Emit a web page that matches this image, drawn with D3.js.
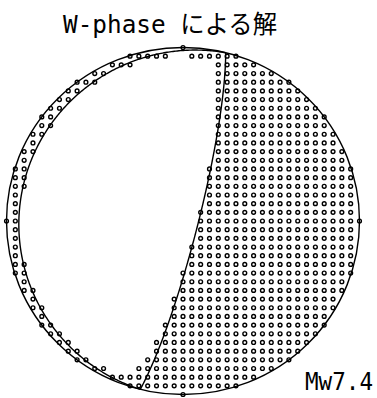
<!DOCTYPE html>
<html lang="ja">
<meta charset="utf-8">
<head>
    <script src="https://d3js.org/d3.v7.min.js"></script>
    <style>
        body { margin: 0; background: #fff; }
        svg { display: block; }
    </style>
</head>
<body>
<div id="chart"></div>
<script>
    // nodal planes (strike, dip in degrees)
    const planeStrikes = [14, 194];
    const planeDips = [83, 8];
    // non double couple part, widens the compressional area
    const nonDcOffset = [0.015];
    const gridStep = [0.05];
    const titleText = ["W-phase による解"];
    const magnitudeLabel = ["Mw7.4"];

    let width = 377, height = 398;

    let svg = d3.select("#chart").append("svg")
        .attr("width", width)
        .attr("height", height);

    // unit disc -> pixels
    let xScale = d3.scaleLinear().domain([-1, 1]).range([6.5, 359.5]);
    let yScale = d3.scaleLinear().domain([-1, 1]).range([394.5, 47.5]);

    const rad = Math.PI / 180;

    function normal(strike, dip) {
        let s = strike * rad, d = dip * rad;
        return [-Math.sin(d) * Math.sin(s), Math.sin(d) * Math.cos(s), -Math.cos(d)];
    }
    const dot = (a, b) => a[0]*b[0] + a[1]*b[1] + a[2]*b[2];

    // lower hemisphere equal area
    function project(v) {
        let inc = Math.acos(Math.max(-1, Math.min(1, v[2])));
        let r = Math.SQRT2 * Math.sin(inc / 2);
        let az = Math.atan2(v[1], v[0]);
        return {u: r * Math.sin(az), v: r * Math.cos(az)};
    }
    function unproject(u, v) {
        let r = Math.sqrt(u*u + v*v);
        let inc = 2 * Math.asin(Math.min(1, r / Math.SQRT2));
        let az = Math.atan2(u, v);
        return [Math.sin(inc) * Math.cos(az), Math.sin(inc) * Math.sin(az), Math.cos(inc)];
    }

    let normals = planeStrikes.map((s, i) => normal(s, planeDips[i]));

    // polarity dots
    let n = Math.round(1 / gridStep[0]);
    let dots = [];
    for (let i = -n; i <= n; i++) {
        for (let j = -n; j <= n; j++) {
            let u = i * gridStep[0], v = j * gridStep[0];
            if (u*u + v*v > 1 + 1e-9) continue;
            let p = unproject(u, v);
            let f = -dot(p, normals[0]) * dot(p, normals[1]) + nonDcOffset[0];
            if (f > 0) dots.push({u: u, v: v});
        }
    }

    svg.append("g").selectAll("circle")
        .data(dots)
        .enter().append("circle")
        .attr("cx", d => xScale(d.u))
        .attr("cy", d => yScale(d.v))
        .attr("r", 1.9)
        .attr("fill", "none")
        .attr("stroke", "#000")
        .attr("stroke-width", 1.4);

    // nodal plane traces
    let line = d3.line()
        .x(d => xScale(d.u))
        .y(d => yScale(d.v));

    planeStrikes.forEach(function(strike, k) {
        let s = strike * rad, d = planeDips[k] * rad;
        let sv = [Math.cos(s), Math.sin(s), 0];
        let dv = [-Math.cos(d) * Math.sin(s), Math.cos(d) * Math.cos(s), Math.sin(d)];
        let pts = d3.range(0, 361).map(function(a) {
            let t = a / 360 * Math.PI;
            return project([Math.cos(t)*sv[0] + Math.sin(t)*dv[0],
                            Math.cos(t)*sv[1] + Math.sin(t)*dv[1],
                            Math.cos(t)*sv[2] + Math.sin(t)*dv[2]]);
        });
        svg.append("path")
            .attr("d", line(pts))
            .attr("fill", "none")
            .attr("stroke", "#000")
            .attr("stroke-width", 1.4);
    });

    svg.append("ellipse")
        .attr("cx", xScale(0))
        .attr("cy", yScale(0))
        .attr("rx", xScale(1) - xScale(0))
        .attr("ry", yScale(-1) - yScale(0))
        .attr("fill", "none")
        .attr("stroke", "#000")
        .attr("stroke-width", 1.4);

    svg.append("text")
        .attr("x", 63)
        .attr("y", 33)
        .attr("textLength", 214)
        .attr("lengthAdjust", "spacingAndGlyphs")
        .style("font-family", "'DejaVu Sans Mono', 'Noto Sans CJK JP', monospace")
        .style("font-size", "25px")
        .text(titleText[0]);

    svg.append("text")
        .attr("x", 305)
        .attr("y", 390)
        .attr("textLength", 68)
        .attr("lengthAdjust", "spacingAndGlyphs")
        .style("font-family", "'DejaVu Sans Mono', 'Noto Sans CJK JP', monospace")
        .style("font-size", "24px")
        .text(magnitudeLabel[0]);
</script>
</body>
</html>
